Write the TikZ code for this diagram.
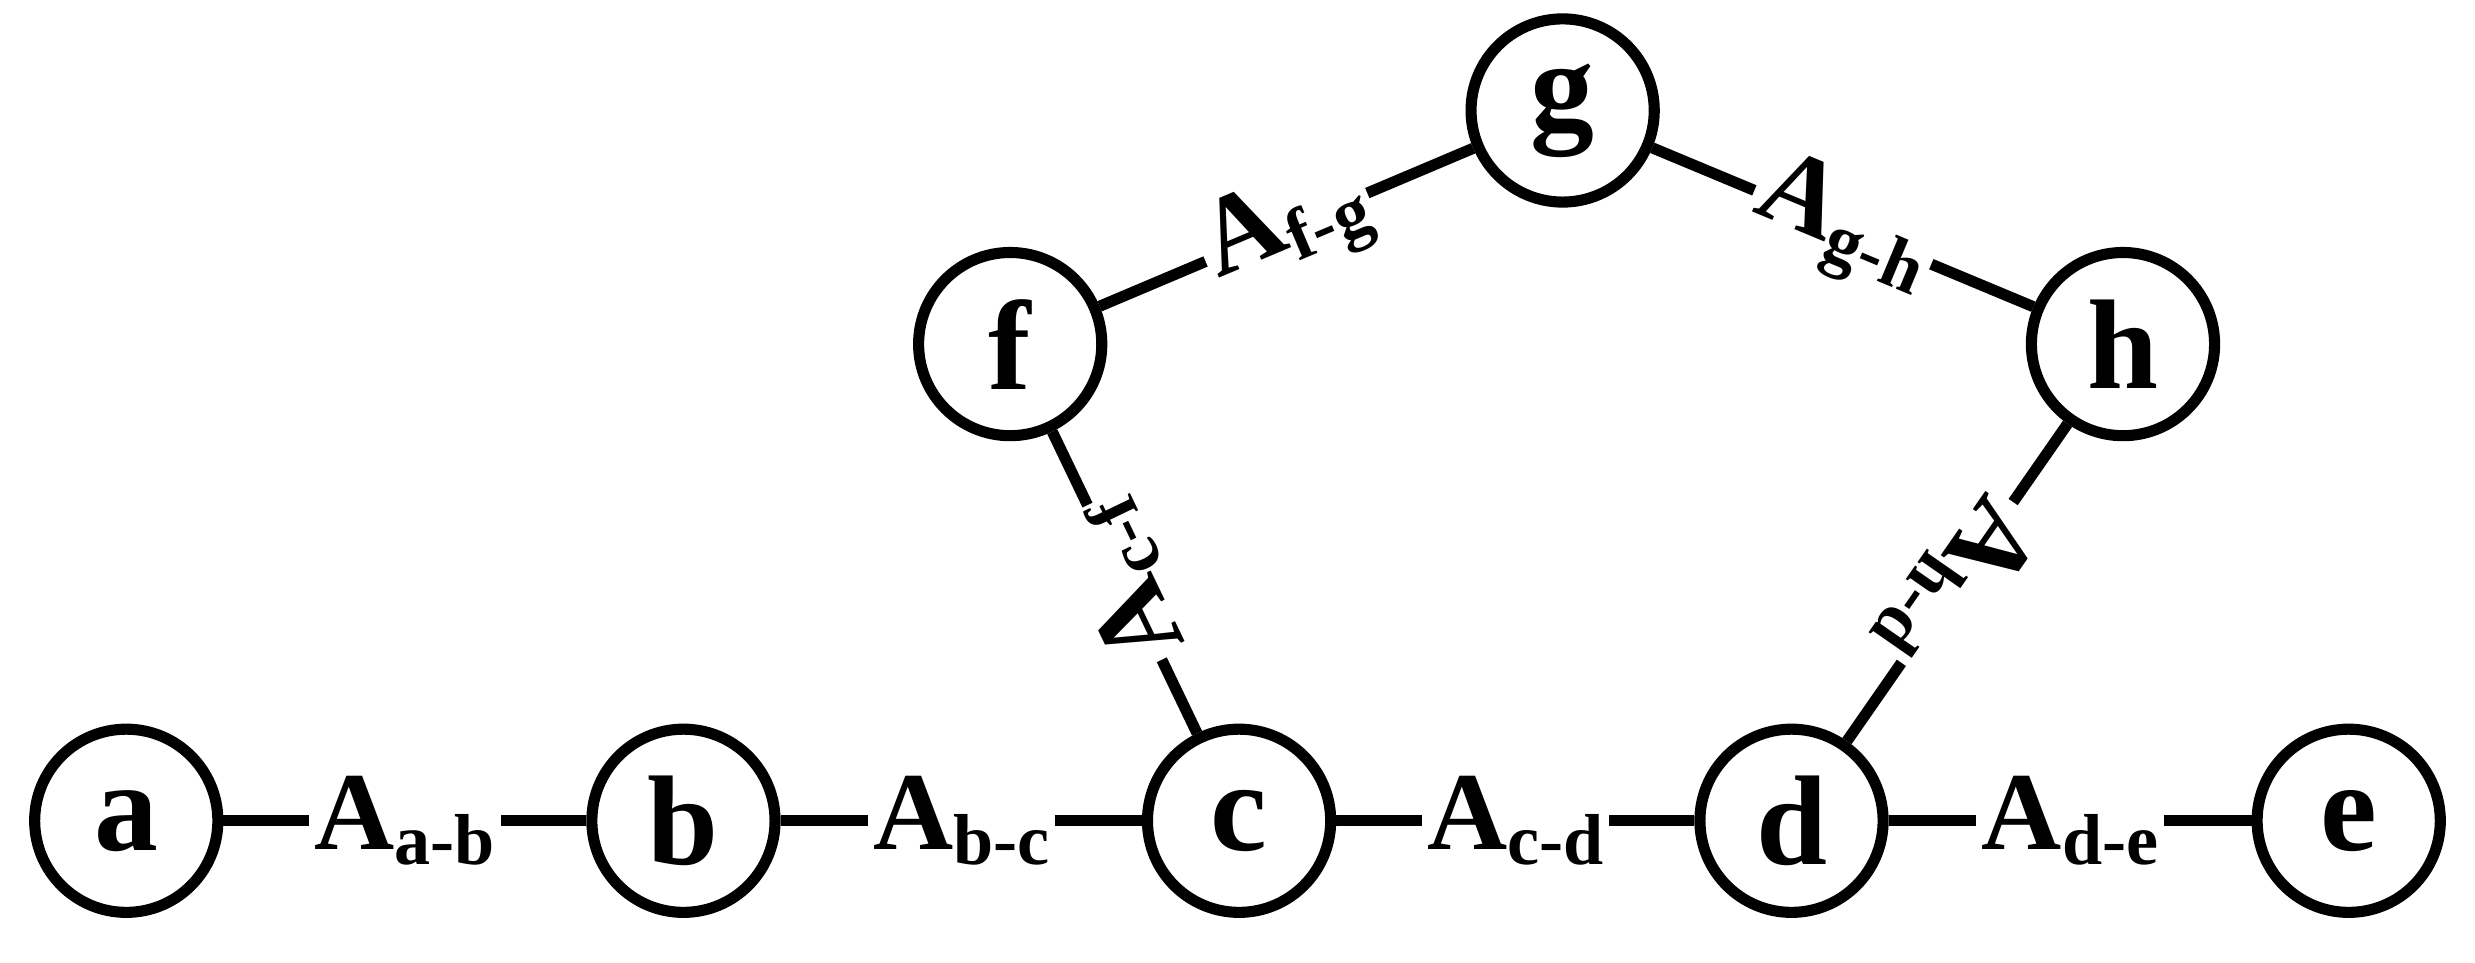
\documentclass[tikz,border=0pt]{standalone}
\usepackage{fontspec}
\setmainfont{Liberation Serif}
\usetikzlibrary{positioning}

\tikzset{
  vertex/.style={circle, draw, line width=2pt, minimum size=1.16cm, inner sep=0pt,
    font=\fontsize{23}{23}\selectfont\bfseries},
  link/.style={line width=2pt},
  weight/.style={fill=white, inner sep=1pt, font=\fontsize{20}{20}\selectfont\bfseries}
}
\newcommand{\wt}[1]{A\raisebox{-0.3ex}{\fontsize{13}{13}\selectfont #1}}

\begin{document}
\begin{tikzpicture}[x=0.01cm, y=-0.01cm]
  \useasboundingbox (0,0) rectangle (1568,610);
  % vertices
  \node[vertex] (a) at (80,520) {a};
  \node[vertex] (b) at (433,520) {b};
  \node[vertex] (c) at (785,520) {c};
  \node[vertex] (d) at (1135,520) {d};
  \node[vertex] (e) at (1488,520) {e};
  \node[vertex] (f) at (640,218) {f};
  \node[vertex] (g) at (990,70) {g};
  \node[vertex] (h) at (1345,218) {h};
  % edges
  \draw[link] (a) -- node[weight] {\wt{a-b}} (b);
  \draw[link] (b) -- node[weight] {\wt{b-c}} (c);
  \draw[link] (c) -- node[weight] {\wt{c-d}} (d);
  \draw[link] (d) -- node[weight] {\wt{d-e}} (e);
  \draw[link] (f) -- node[weight, sloped] {\wt{f-g}} (g);
  \draw[link] (g) -- node[weight, sloped] {\wt{g-h}} (h);
  \draw[link] (c) -- node[weight, sloped, allow upside down] {\wt{c-f}} (f);
  \draw[link] (h) -- node[weight, sloped, allow upside down] {\wt{h-d}} (d);
\end{tikzpicture}
\end{document}
